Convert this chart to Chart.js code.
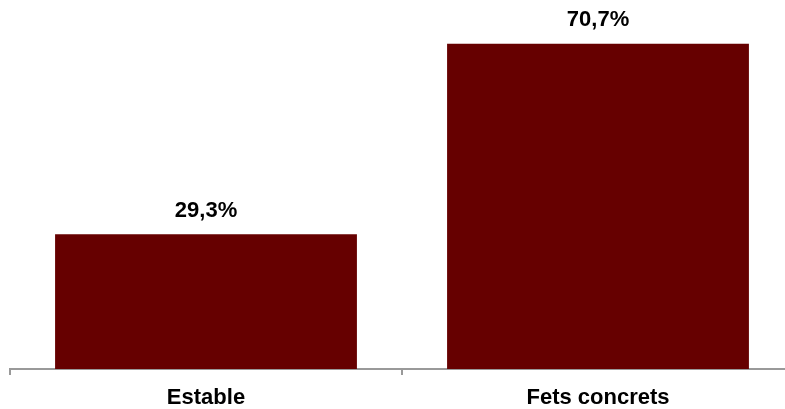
<!DOCTYPE html>
<html>
<head>
<meta charset="utf-8">
<script src="https://cdn.jsdelivr.net/npm/chart.js@4/dist/chart.umd.min.js"></script>
<style>
  html, body { margin: 0; padding: 0; overflow: hidden; background: #fff; }
  #wrap { width: 795px; height: 409px; position: relative; }
</style>
</head>
<body>
<div id="wrap"><canvas id="chart"></canvas></div>
<script>
// Categories and values
const categories = ["Estable", "Fets concrets"];
const shares = [29.3, 70.7];

const BAR_COLOR = "#660000";
const FONT = "'Liberation Sans', Arial, sans-serif";

// Draws "29,3%" style labels above each bar
const valueLabels = {
  id: "valueLabels",
  afterDatasetsDraw(chart) {
    const ctx = chart.ctx;
    const meta = chart.getDatasetMeta(0);
    ctx.save();
    ctx.fillStyle = "#000";
    ctx.font = "bold 22px " + FONT;
    ctx.textAlign = "center";
    ctx.textBaseline = "middle";
    meta.data.forEach((bar, i) => {
      const txt = shares[i].toFixed(1).replace(".", ",") + "%";
      ctx.fillText(txt, bar.x, bar.y - 23.5);
    });
    ctx.restore();
  },
};

new Chart(document.getElementById("chart"), {
  type: "bar",
  data: {
    labels: categories,
    datasets: [
      {
        data: shares,
        backgroundColor: BAR_COLOR,
        barPercentage: 0.77,
        categoryPercentage: 1,
      },
    ],
  },
  options: {
    responsive: true,
    maintainAspectRatio: false,
    animation: false,
    layout: { padding: { left: 10, right: 1, top: 1, bottom: 0 } },
    scales: {
      x: {
        // fixed axis band height so the baseline sits where the original has it
        afterFit: (scale) => { scale.height = 40; },
        grid: {
          offset: true,
          drawOnChartArea: false,
          drawTicks: true,
          tickLength: 6,
          color: "#999999",
          lineWidth: 2,
        },
        border: { color: "#999999", width: 2 },
        ticks: {
          color: "#000",
          padding: 13,
          font: { family: FONT, size: 22, weight: "bold", lineHeight: 0.9 },
        },
      },
      y: {
        display: false,
        min: 0,
        max: 80,
      },
    },
    plugins: {
      legend: { display: false },
      tooltip: { enabled: false },
    },
  },
  plugins: [valueLabels],
});
</script>
</body>
</html>
